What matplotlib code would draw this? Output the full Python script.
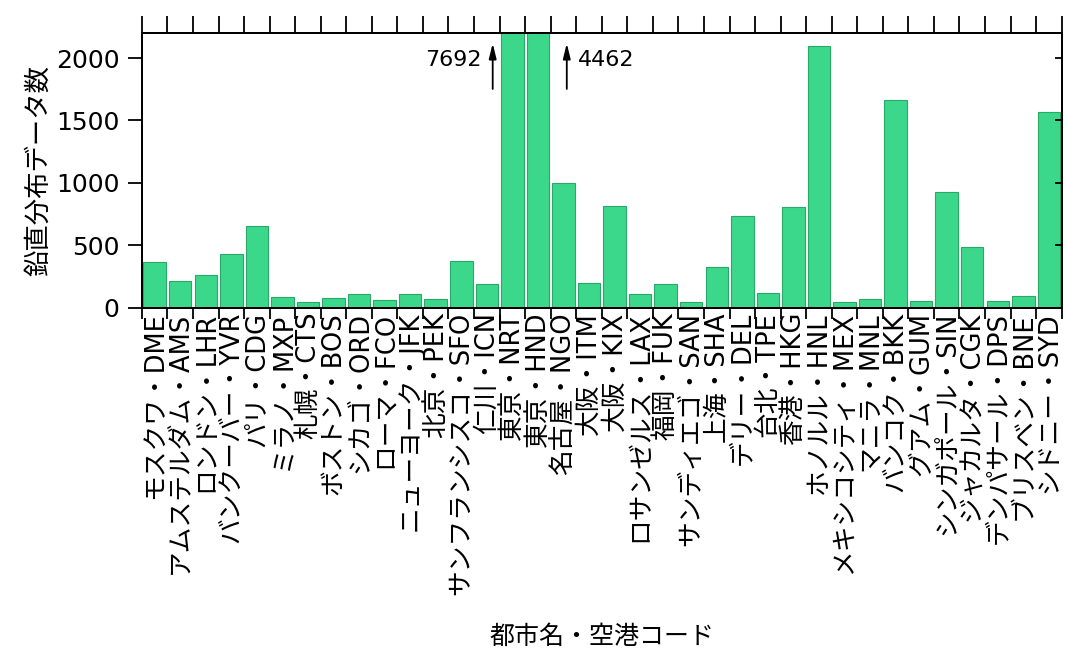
import numpy as np
import matplotlib.pyplot as plt

plt.rcParams['font.family'] = ['DejaVu Sans', 'Noto Sans CJK JP']

cities = ['モスクワ', 'アムステルダム', 'ロンドン', 'バンクーバー', 'パリ', 'ミラノ', '札幌',
          'ボストン', 'シカゴ', 'ローマ', 'ニューヨーク', '北京', 'サンフランシスコ', '仁川',
          '東京', '東京', '名古屋', '大阪', '大阪', 'ロサンゼルス', '福岡', 'サンディエゴ',
          '上海', 'デリー', '台北', '香港', 'ホノルル', 'メキシコシティ', 'マニラ', 'バンコク',
          'グアム', 'シンガポール', 'ジャカルタ', 'デンパサール', 'ブリスベン', 'シドニー']
codes = ['DME', 'AMS', 'LHR', 'YVR', 'CDG', 'MXP', 'CTS', 'BOS', 'ORD', 'FCO', 'JFK', 'PEK',
         'SFO', 'ICN', 'NRT', 'HND', 'NGO', 'ITM', 'KIX', 'LAX', 'FUK', 'SAN', 'SHA', 'DEL',
         'TPE', 'HKG', 'HNL', 'MEX', 'MNL', 'BKK', 'GUM', 'SIN', 'CGK', 'DPS', 'BNE', 'SYD']
counts = [366, 214, 259, 428, 655, 85, 45, 75, 107, 59, 109, 72, 374, 187,
          7692, 4462, 998, 198, 819, 109, 190, 43, 326, 736, 120, 806, 2093,
          48, 69, 1667, 56, 926, 487, 56, 93, 1566]

labels = [c + '・' + k for c, k in zip(cities, codes)]
x = np.arange(len(codes))
yticks = [0, 500, 1000, 1500, 2000]
ymax = 2200

fig = plt.figure(figsize=(10.67, 6.48), dpi=100)
ax = fig.add_axes([0.133, 0.525, 0.862, 0.424])

ax.bar(x, counts, width=0.88, color='#3bd88b', edgecolor='#2aa868', linewidth=0.8)
ax.set_xlim(-0.5, len(codes) - 0.5)
ax.set_ylim(0, ymax)

# bars that go off the top: arrow + real value
arrow = dict(arrowstyle='-|>,head_width=0.22,head_length=0.9', color='black', lw=1.3)
for i, v in enumerate(counts):
    if v > ymax:
        if codes[i] == 'NRT':
            ax.annotate('', xy=(i - 0.77, 2140), xytext=(i - 0.77, 1730), arrowprops=arrow)
            ax.text(i - 1.2, 1985, str(v), ha='right', va='center', fontsize=16)
        else:
            ax.annotate('', xy=(i + 1.13, 2140), xytext=(i + 1.13, 1730), arrowprops=arrow)
            ax.text(i + 1.55, 1985, str(v), ha='left', va='center', fontsize=16)

ax.set_yticks(yticks)
ax.tick_params(axis='y', labelsize=18, direction='out', length=10, width=1.3, pad=6)

ax.set_xticks(x)
ax.set_xticklabels(labels, rotation=90, fontsize=18.5)
ax.tick_params(axis='x', which='major', length=0, pad=3)
ax.set_xticks(np.arange(-0.5, len(codes)), minor=True)
ax.tick_params(axis='x', which='minor', direction='out', length=8, width=1.3, bottom=True)

# right side ticks point inward
ax2 = ax.twinx()
ax2.set_ylim(ax.get_ylim())
ax2.set_yticks(yticks)
ax2.tick_params(axis='y', direction='in', length=5, width=1.3, labelright=False)

# longer top ticks
ax3 = ax.twiny()
ax3.set_xlim(ax.get_xlim())
ax3.set_xticks(np.arange(-0.5, len(codes)))
ax3.tick_params(axis='x', direction='out', length=12, width=1.3, labeltop=False)

for a in (ax, ax2, ax3):
    for s in a.spines.values():
        s.set_linewidth(1.3)

ax.set_ylabel('鉛直分布データ数', fontsize=19)
ax.yaxis.set_label_coords(-0.098, 0.5)
ax.set_xlabel('都市名・空港コード', fontsize=18)
ax.xaxis.set_label_coords(0.5, -1.155)

fig.savefig('out.png', dpi=100)
